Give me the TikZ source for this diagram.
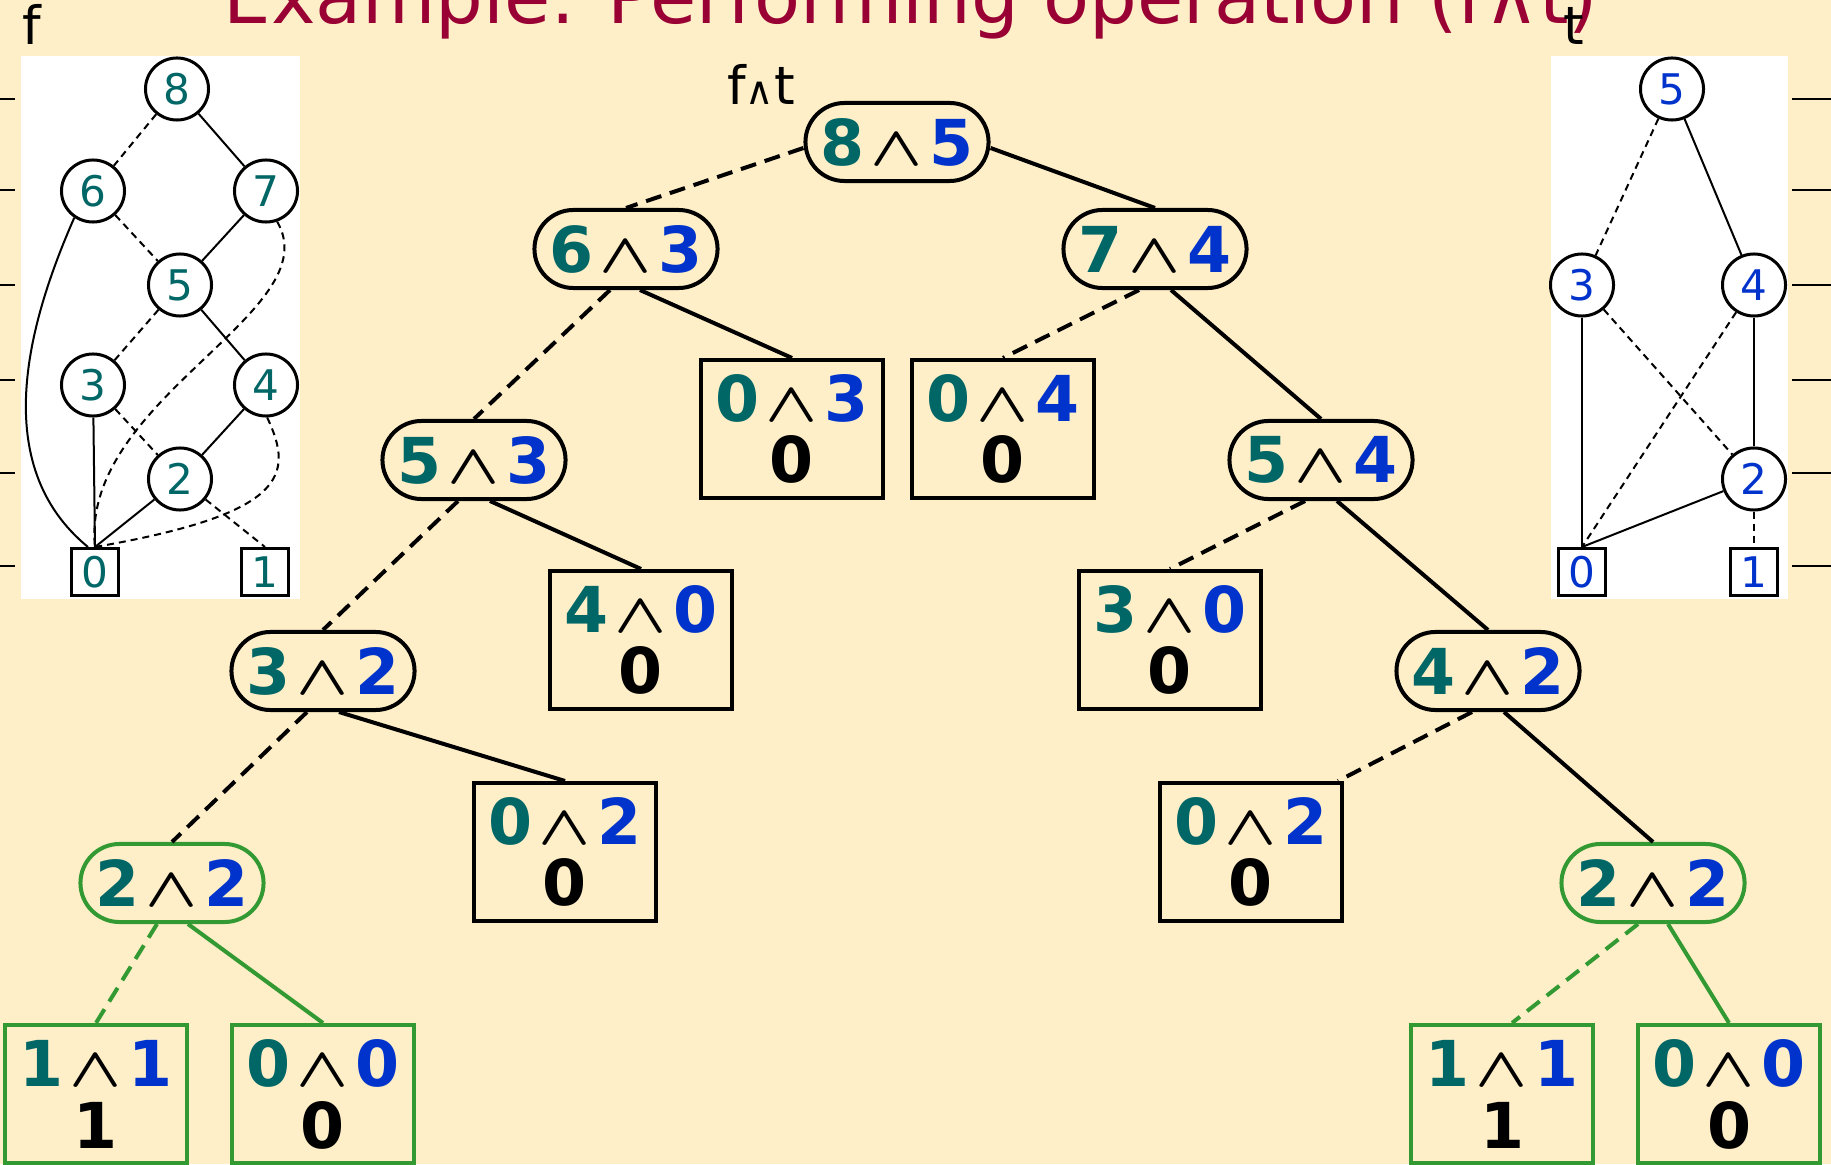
\documentclass[tikz,border=0pt]{standalone}
\usepackage{fontspec}
\setmainfont{DejaVu Sans}
\usepackage{graphicx}
\usepackage{tikz}
\usetikzlibrary{shapes.misc,shapes.geometric}

\definecolor{bgcol}{HTML}{FEEFC8}
\definecolor{fcol}{HTML}{006666}
\definecolor{tcol}{HTML}{0033CC}
\definecolor{titlecol}{HTML}{990033}
\definecolor{hitcol}{HTML}{339933}

\newcommand{\opand}{{\fontsize{17.28}{17.28}\selectfont\boldmath\scalebox{1.12}[0.92]{$\wedge$}}}
\newcommand{\pairtxt}[2]{\textcolor{fcol}{#1}\hspace{0.065cm}\opand\hspace{0.065cm}\textcolor{tcol}{#2}}
\newcommand{\bigdigits}{\bfseries\fontsize{18}{17.6}\selectfont}

\begin{document}
\begin{tikzpicture}[x=0.01cm,y=-0.01cm,
  opnode/.style={rounded rectangle,draw,line width=0.04cm,minimum width=1.83cm,
    minimum height=0.78cm,inner sep=0pt,font=\bigdigits},
  leafnode/.style={rectangle,draw,line width=0.04cm,minimum width=1.82cm,
    minimum height=1.38cm,inner sep=0pt,align=center,font=\bigdigits},
  hit/.style={draw=hitcol},
  lo/.style={line width=0.04cm,dash pattern=on 0.16cm off 0.09cm},
  hi/.style={line width=0.04cm},
  bddnode/.style={ellipse,draw,line width=0.03cm,minimum width=0.63cm,
    minimum height=0.62cm,inner sep=0pt,font=\fontsize{12}{12}\selectfont},
  bddleaf/.style={rectangle,draw,line width=0.03cm,minimum width=0.47cm,
    minimum height=0.47cm,inner sep=0pt,font=\fontsize{12}{12}\selectfont},
  sidelo/.style={line width=0.02cm,dash pattern=on 0.07cm off 0.05cm},
  sidehi/.style={line width=0.02cm}]
\useasboundingbox (0,0) rectangle (1831,1164);
\fill[bgcol] (0,0) rectangle (1831,1164);

% title and labels
\node[anchor=base,text=titlecol,font=\fontsize{21.4}{21.4}\selectfont] (title) at (911,24)
  {Example: Performing operation (f∧t)};
\node[anchor=base west,inner sep=0pt,font=\fontsize{15}{15}\selectfont] (flabel) at (22,45) {f};
\node[anchor=base west,inner sep=0pt,font=\fontsize{15}{15}\selectfont] (tlabel) at (1563,45) {t};
\node[anchor=base,inner sep=0pt,font=\fontsize{15}{15}\selectfont] (ftlabel) at (761,105)
  {f{\fontsize{11}{11}\selectfont∧}t};

% BDD of f
\fill[white] (21,56) rectangle (300,599);
\foreach \y in {99,190,285,380,473,566} {
  \draw[line width=0.02cm] (0,\y) -- (15,\y);
  \draw[line width=0.02cm] (1792,\y) -- (1831,\y);
}
\node[bddnode,text=fcol] (f8) at (177,89) {8};
\node[bddnode,text=fcol] (f6) at (93,191) {6};
\node[bddnode,text=fcol] (f7) at (266,191) {7};
\node[bddnode,text=fcol] (f5) at (180,285) {5};
\node[bddnode,text=fcol] (f3) at (93,385) {3};
\node[bddnode,text=fcol] (f4) at (266,385) {4};
\node[bddnode,text=fcol] (f2) at (180,479) {2};
\node[bddleaf,text=fcol] (f0) at (95,572) {0};
\node[bddleaf,text=fcol] (f1) at (265,572) {1};
\draw[sidelo] (f8) -- (f6);
\draw[sidehi] (f8) -- (f7);
\draw[sidelo] (f6) -- (f5);
\draw[sidehi] (f7) -- (f5);
\draw[sidelo] (f5) -- (f3);
\draw[sidehi] (f5) -- (f4);
\draw[sidelo] (f3) -- (f2);
\draw[sidehi] (f4) -- (f2);
\draw[sidehi] (f3) -- (f0.north);
\draw[sidehi] (f2) -- (f0.north);
\draw[sidelo] (f2) -- (f1.north);
\draw[sidehi] (f6.235) .. controls (28,323) and (-12,465) .. ([xshift=-0.07cm]f0.north);
\draw[sidelo] (f7.290) .. controls (330,312) and (80,399) .. (f0.north);
\draw[sidelo] (f4.272) .. controls (295,476) and (285,514) .. (f0.north);

% BDD of t
\fill[white] (1551,56) rectangle (1788,599);
\node[bddnode,text=tcol] (t5) at (1672,89) {5};
\node[bddnode,text=tcol] (t3) at (1582,285) {3};
\node[bddnode,text=tcol] (t4) at (1754,285) {4};
\node[bddnode,text=tcol] (t2) at (1754,479) {2};
\node[bddleaf,text=tcol] (t0) at (1582,572) {0};
\node[bddleaf,text=tcol] (t1) at (1754,572) {1};
\draw[sidelo] (t5) -- (t3);
\draw[sidehi] (t5) -- (t4);
\draw[sidehi] (t3) -- (t0.north);
\draw[sidelo] (t3) -- (t2);
\draw[sidelo] (t4) -- (t0.north);
\draw[sidehi] (t4) -- (t2);
\draw[sidehi] (t2) -- (t0.north);
\draw[sidelo] (t2) -- (t1);

% recursion tree of f and t
\node[opnode] (r85) at (897,142) {\pairtxt{8}{5}};
\node[opnode] (r63) at (626,249) {\pairtxt{6}{3}};
\node[opnode] (r74) at (1155,249) {\pairtxt{7}{4}};
\node[leafnode] (b03) at (792,429) {\pairtxt{0}{3}\\0};
\node[leafnode] (b04) at (1003,429) {\pairtxt{0}{4}\\0};
\node[opnode] (r53) at (474,460) {\pairtxt{5}{3}};
\node[opnode] (r54) at (1321,460) {\pairtxt{5}{4}};
\node[leafnode] (b40) at (641,640) {\pairtxt{4}{0}\\0};
\node[leafnode] (b30) at (1170,640) {\pairtxt{3}{0}\\0};
\node[opnode] (r32) at (323,671) {\pairtxt{3}{2}};
\node[opnode] (r42) at (1488,671) {\pairtxt{4}{2}};
\node[leafnode] (b02a) at (565,852) {\pairtxt{0}{2}\\0};
\node[leafnode] (b02b) at (1251,852) {\pairtxt{0}{2}\\0};
\node[opnode,hit] (r22a) at (172,883) {\pairtxt{2}{2}};
\node[opnode,hit] (r22b) at (1653,883) {\pairtxt{2}{2}};
\node[leafnode,hit] (b11a) at (96,1094) {\pairtxt{1}{1}\\1};
\node[leafnode,hit] (b00a) at (323,1094) {\pairtxt{0}{0}\\0};
\node[leafnode,hit] (b11b) at (1502,1094) {\pairtxt{1}{1}\\1};
\node[leafnode,hit] (b00b) at (1729,1094) {\pairtxt{0}{0}\\0};

\draw[lo] ([yshift=-0.06cm]r85.west) -- (r63.north);
\draw[hi] ([yshift=-0.06cm]r85.east) -- (r74.north);
\draw[lo] ([xshift=-0.16cm]r63.south) -- (r53.north);
\draw[hi] ([xshift=0.14cm]r63.south) -- (b03.north);
\draw[lo] ([xshift=-0.16cm]r74.south) -- (b04.north);
\draw[hi] ([xshift=0.16cm]r74.south) -- (r54.north);
\draw[lo] ([xshift=-0.16cm]r53.south) -- (r32.north);
\draw[hi] ([xshift=0.16cm]r53.south) -- (b40.north);
\draw[lo] ([xshift=-0.16cm]r54.south) -- (b30.north);
\draw[hi] ([xshift=0.16cm]r54.south) -- (r42.north);
\draw[lo] ([xshift=-0.16cm]r32.south) -- (r22a.north);
\draw[hi] ([xshift=0.16cm]r32.south) -- (b02a.north);
\draw[lo] ([xshift=-0.16cm]r42.south) -- ([xshift=-0.06cm]b02b.north east);
\draw[hi] ([xshift=0.16cm]r42.south) -- (r22b.north);
\draw[lo,hitcol] ([xshift=-0.15cm]r22a.south) -- (b11a.north);
\draw[hi,hitcol] ([xshift=0.16cm]r22a.south) -- (b00a.north);
\draw[lo,hitcol] ([xshift=-0.15cm]r22b.south) -- ([xshift=0.1cm]b11b.north);
\draw[hi,hitcol] ([xshift=0.15cm]r22b.south) -- (b00b.north);
\end{tikzpicture}
\end{document}
